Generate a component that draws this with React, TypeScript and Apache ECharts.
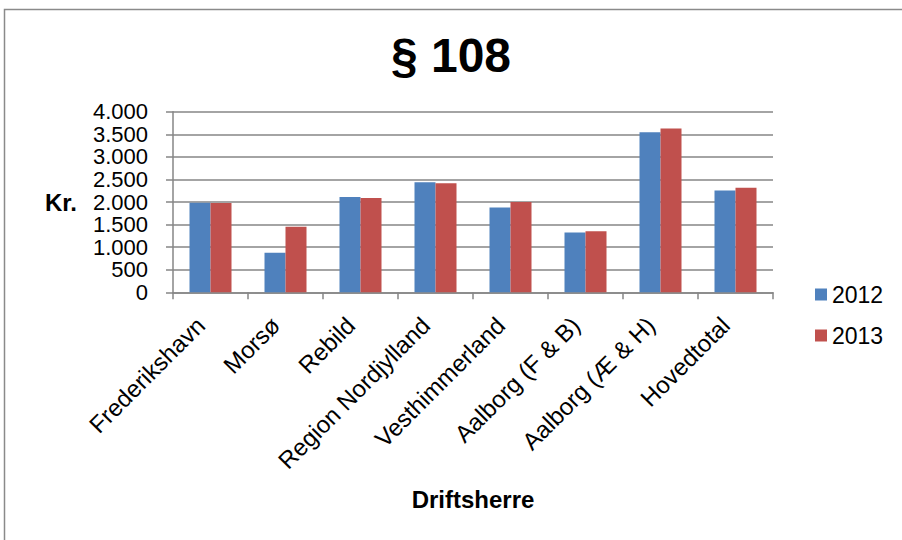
import React, { useEffect, useRef } from "react";
import * as echarts from "echarts";

const categories = [
  "Frederikshavn",
  "Morsø",
  "Rebild",
  "Region Nordjylland",
  "Vesthimmerland",
  "Aalborg (F & B)",
  "Aalborg (Æ & H)",
  "Hovedtotal",
];
const values2012 = [1985, 876, 2108, 2440, 1880, 1327, 3546, 2257];
const values2013 = [1980, 1451, 2086, 2418, 1998, 1350, 3628, 2314];
const seriesNames = ["2012", "2013"];
const seriesColors = ["#4F81BD", "#C0504D"];

const FONT = "'Liberation Sans', Arial, Helvetica, sans-serif";

export default function App() {
  const ref = useRef<HTMLDivElement>(null);

  useEffect(() => {
    if (!ref.current) return;
    const chart = echarts.init(ref.current, undefined, { renderer: "svg" });
    chart.setOption({
      animation: false,
      backgroundColor: "#ffffff",
      textStyle: { fontFamily: FONT, color: "#000" },
      title: {
        text: "§ 108",
        left: "center",
        top: 26,
        textStyle: { fontFamily: FONT, fontSize: 48, fontWeight: "bold", color: "#000" },
      },
      legend: {
        orient: "vertical",
        left: 810,
        top: 278,
        itemWidth: 12,
        itemHeight: 12,
        itemGap: 18,
        icon: "rect",
        textStyle: { fontFamily: FONT, fontSize: 23, color: "#000" },
        data: seriesNames,
      },
      grid: { left: 173, right: 129, top: 111.7, bottom: 247.7, containLabel: false },
      xAxis: {
        type: "category",
        data: categories,
        name: "Driftsherre",
        nameLocation: "middle",
        nameGap: 195,
        nameTextStyle: { fontFamily: FONT, fontSize: 24, fontWeight: "bold", color: "#000" },
        axisLine: { lineStyle: { color: "#868686", width: 1.5 } },
        axisTick: { show: true, length: 7, lineStyle: { color: "#868686", width: 1.5 } },
        axisLabel: {
          interval: 0,
          rotate: 45,
          margin: 19,
          padding: [0, 14, 0, 0],
          fontFamily: FONT,
          fontSize: 24,
          color: "#000",
        },
      },
      yAxis: {
        type: "value",
        min: 0,
        max: 4000,
        interval: 500,
        name: "Kr.",
        nameLocation: "middle",
        nameRotate: 0,
        nameGap: 96,
        nameTextStyle: { fontFamily: FONT, fontSize: 24, fontWeight: "bold", color: "#000" },
        axisLine: { show: true, lineStyle: { color: "#868686", width: 1.5 } },
        axisTick: { show: true, length: 7, lineStyle: { color: "#868686", width: 1.5 } },
        splitLine: { lineStyle: { color: "#868686", width: 1.5 } },
        axisLabel: {
          margin: 25,
          showMinLabel: true,
          showMaxLabel: true,
          hideOverlap: false,
          fontFamily: FONT,
          fontSize: 22,
          lineHeight: 20,
          color: "#000",
          formatter: (v: number) => v.toLocaleString("da-DK"),
        },
      },
      series: [
        {
          name: seriesNames[0],
          type: "bar",
          data: values2012,
          barGap: "0%",
          barCategoryGap: "44%",
          itemStyle: { color: seriesColors[0] },
        },
        {
          name: seriesNames[1],
          type: "bar",
          data: values2013,
          barGap: "0%",
          barCategoryGap: "44%",
          itemStyle: { color: seriesColors[1] },
        },
      ],
      graphic: [
        {
          type: "polyline",
          silent: true,
          shape: { points: [[4.5, 545], [4.5, 9.5], [910, 9.5]] },
          style: { stroke: "#8a8a8a", lineWidth: 1.5, fill: "none" },
        },
      ],
    });
    return () => chart.dispose();
  }, []);

  return (
    <div
      ref={ref}
      style={{ position: "fixed", left: 0, top: 0, width: 902, height: 540 }}
    />
  );
}
